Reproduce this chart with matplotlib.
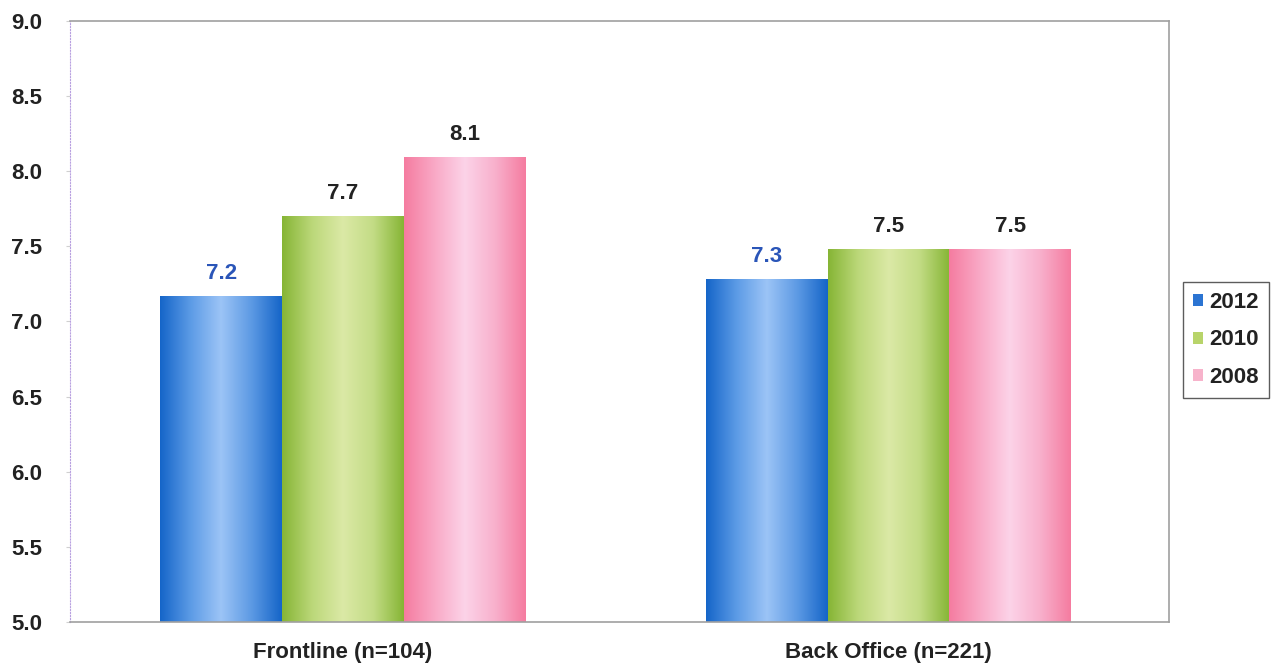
import matplotlib
matplotlib.use("Agg")
import matplotlib.pyplot as plt
import numpy as np
from matplotlib.colors import LinearSegmentedColormap
from matplotlib.patches import Patch

plt.rcParams['font.family'] = ['Liberation Sans', 'DejaVu Sans']

groups = ['Frontline (n=104)', 'Back Office (n=221)']
years = ['2012', '2010', '2008']
# bar heights as drawn (labels are rounded to one decimal)
v2012 = [7.17, 7.28]
v2010 = [7.70, 7.48]
v2008 = [8.09, 7.48]
yticks = [5.0, 5.5, 6.0, 6.5, 7.0, 7.5, 8.0, 8.5, 9.0]

# edge / highlight colours for the cylinder-like shading
shades = {
    '2012': ['#1565c8', '#5c9be6', '#9cc4f6', '#5d9ae4', '#1565c8'],
    '2010': ['#86b535', '#bcd87a', '#dbe9a6', '#c3dc85', '#86b535'],
    '2008': ['#f57ca0', '#f9a9c6', '#fcd3e8', '#f8b0cc', '#f57ca0'],
}
legend_col = {'2012': '#2b74d2', '2010': '#b8d46a', '2008': '#f7b3cb'}
label_col = {'2012': '#2a55b8', '2010': '#222222', '2008': '#222222'}

fig = plt.figure(figsize=(12.73, 6.64), dpi=100, facecolor='white')
ax = fig.add_axes([0.055, 0.063, 0.863, 0.906])

x = np.arange(len(groups))
w = 0.223

grad = np.linspace(0, 1, 256).reshape(1, -1)
for i, (yr, vals) in enumerate(zip(years, [v2012, v2010, v2008])):
    bars = ax.bar(x + (i - 1) * w, [v - 5.0 for v in vals], w, bottom=5.0,
                  color='none', edgecolor='none', zorder=2)
    cmap = LinearSegmentedColormap.from_list(yr, shades[yr])
    for b, v in zip(bars, vals):
        x0, y0 = b.get_x(), b.get_y()
        im = ax.imshow(grad, cmap=cmap, aspect='auto', zorder=2,
                       extent=[x0, x0 + b.get_width(), y0, y0 + b.get_height()])
        im.set_clip_path(b)
        ax.text(b.get_x() + b.get_width() / 2, v + 0.08, f'{v:.1f}',
                ha='center', va='bottom', fontsize=16, fontweight='bold',
                color=label_col[yr])

ax.set_xlim(-0.5, 1.513)
ax.set_ylim(5.0, 9.0)
ax.set_xticks(x)
ax.set_xticklabels(groups, fontsize=16, fontweight='bold', color='#222222')
ax.set_yticks(yticks)
ax.set_yticklabels([f'{t:.1f}' for t in yticks], fontsize=16,
                   fontweight='bold', color='#222222')
ax.tick_params(axis='x', length=0, pad=14)
ax.tick_params(axis='y', length=3, color='#d0d0d0', pad=17)

for s in ['top', 'bottom', 'right']:
    ax.spines[s].set_color('#a0a0a0')
    ax.spines[s].set_linewidth(1.2)
ax.spines['left'].set_color('#b8a0e0')
ax.spines['left'].set_linestyle(':')

handles = [Patch(facecolor=legend_col[y], edgecolor='none', label=y) for y in years]
leg = fig.legend(handles=handles, loc='center left',
                 bbox_to_anchor=(0.929, 0.488), frameon=True, fancybox=False,
                 prop={'size': 16, 'weight': 'bold'}, handlelength=0.45,
                 handleheight=0.45, handletextpad=0.3, borderpad=0.45,
                 labelspacing=0.75, borderaxespad=0.0)
leg.get_frame().set_edgecolor('#333333')
leg.get_frame().set_linewidth(1.0)
for t in leg.get_texts():
    t.set_color('#222222')

fig.savefig('out.png', dpi=100, facecolor='white')
